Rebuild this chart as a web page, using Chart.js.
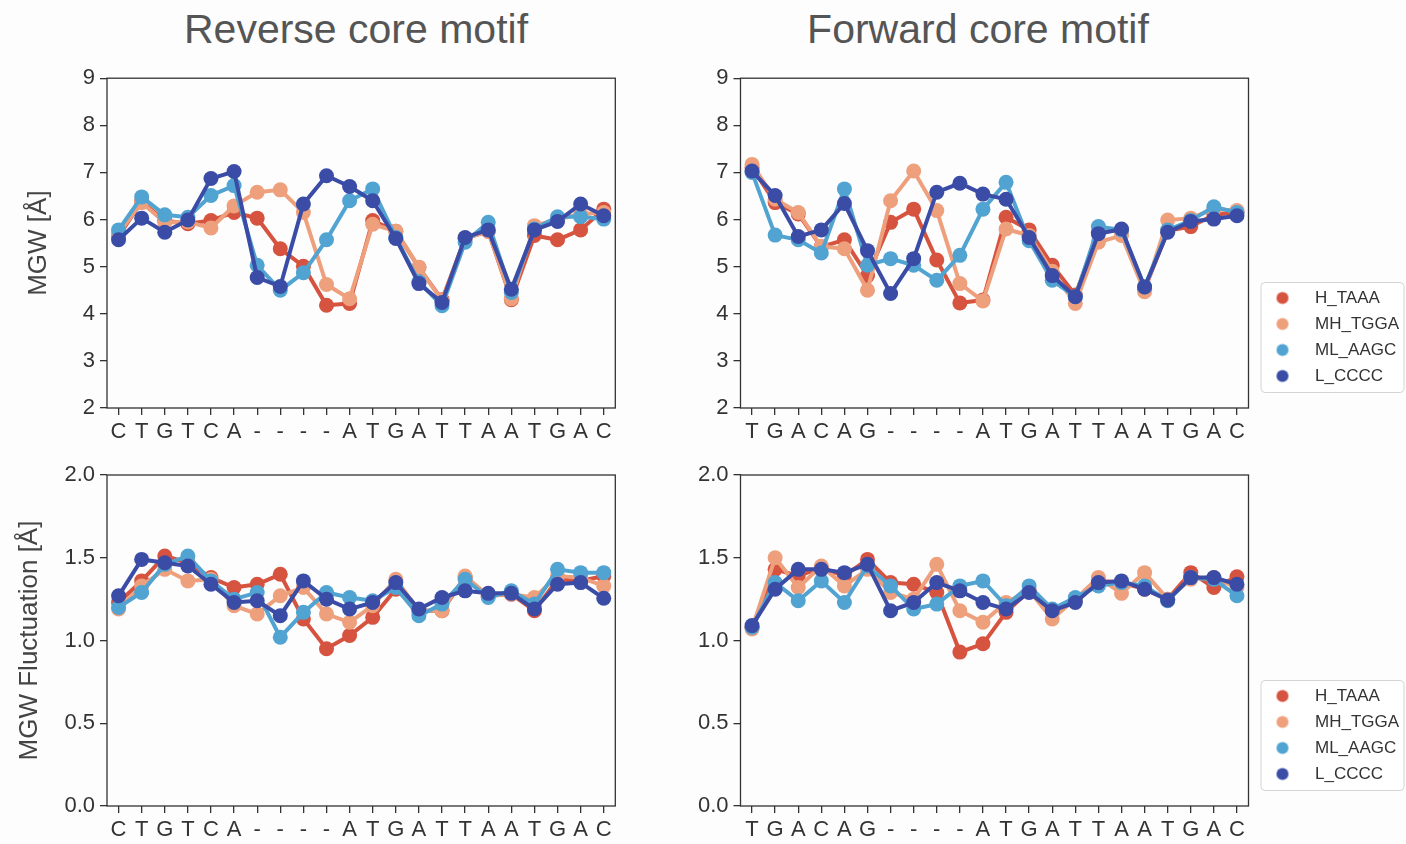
<!DOCTYPE html>
<html>
<head>
<meta charset="utf-8">
<script src="https://cdn.jsdelivr.net/npm/chart.js@4.4.1/dist/chart.umd.min.js"></script>
<style>
  html, body { margin: 0; padding: 0; background: #fdfdfd; }
  body { width: 1406px; height: 844px; position: relative; overflow: hidden;
         font-family: "Liberation Sans", Arial, sans-serif; }
  canvas.panel { position: absolute; }
  .head { position: absolute; top: 9px; font-size: 41px; line-height: 41px; color: #555;
          white-space: nowrap; transform: translateX(-50%); font-weight: normal; margin: 0; }
</style>
</head>
<body>
<h1 class="head" style="left:356px">Reverse core motif</h1>
<h1 class="head" style="left:978px">Forward core motif</h1>
<canvas id="mgwRev" class="panel" width="640" height="390" style="left:0;top:60px"></canvas>
<canvas id="mgwFwd" class="panel" width="766" height="390" style="left:640px;top:60px"></canvas>
<canvas id="flucRev" class="panel" width="640" height="394" style="left:0;top:450px"></canvas>
<canvas id="flucFwd" class="panel" width="766" height="394" style="left:640px;top:450px"></canvas>
<script>
// Sequence positions along each motif
const reverseSites = ['C','T','G','T','C','A','-','-','-','-','A','T','G','A','T','T','A','A','T','G','A','C'];
const forwardSites = ['T','G','A','C','A','G','-','-','-','-','A','T','G','A','T','T','A','A','T','G','A','C'];

const seriesNames  = ['H_TAAA', 'MH_TGGA', 'ML_AAGC', 'L_CCCC'];
const seriesColors = ['#d6533f', '#eea07d', '#51a3d1', '#3a4ca6'];

// Minor groove width (Å), reverse core motif
const mgwRevH  = [5.65, 6.38, 5.98, 5.91, 5.98, 6.15, 6.03, 5.38, 5.01, 4.18, 4.22, 5.98, 5.75, 4.98, 4.30, 5.60, 5.75, 4.30, 5.66, 5.57, 5.78, 6.22];
const mgwRevMH = [5.70, 6.36, 5.94, 5.95, 5.82, 6.29, 6.58, 6.63, 6.15, 4.62, 4.32, 5.90, 5.75, 4.99, 4.28, 5.60, 5.75, 4.32, 5.87, 6.00, 6.12, 6.15];
const mgwRevML = [5.78, 6.48, 6.10, 6.05, 6.51, 6.72, 5.03, 4.50, 4.87, 5.57, 6.40, 6.65, 5.62, 4.68, 4.17, 5.52, 5.94, 4.45, 5.80, 6.06, 6.06, 6.01];
const mgwRevL  = [5.57, 6.03, 5.73, 5.99, 6.87, 7.02, 4.77, 4.58, 6.33, 6.93, 6.70, 6.40, 5.60, 4.64, 4.24, 5.62, 5.78, 4.52, 5.78, 5.96, 6.33, 6.08];

// Minor groove width (Å), forward core motif
const mgwFwdH  = [7.10, 6.36, 6.12, 5.42, 5.57, 4.81, 5.94, 6.22, 5.14, 4.23, 4.29, 6.05, 5.78, 5.03, 4.40, 5.73, 5.78, 4.52, 5.76, 5.85, 6.10, 6.15];
const mgwFwdMH = [7.17, 6.43, 6.15, 5.43, 5.38, 4.50, 6.40, 7.03, 6.19, 4.64, 4.27, 5.80, 5.66, 4.90, 4.22, 5.52, 5.66, 4.47, 5.99, 6.03, 6.22, 6.19];
const mgwFwdML = [7.00, 5.67, 5.57, 5.29, 6.65, 5.03, 5.17, 5.03, 4.71, 5.24, 6.22, 6.79, 5.55, 4.71, 4.36, 5.85, 5.78, 4.57, 5.78, 5.98, 6.27, 6.15];
const mgwFwdL  = [7.03, 6.51, 5.64, 5.78, 6.34, 5.34, 4.43, 5.17, 6.58, 6.77, 6.54, 6.43, 5.62, 4.81, 4.36, 5.70, 5.80, 4.57, 5.73, 5.96, 6.01, 6.08];

// MGW fluctuation (Å), reverse core motif
const flucRevH  = [1.23, 1.36, 1.51, 1.47, 1.38, 1.32, 1.34, 1.40, 1.13, 0.95, 1.03, 1.14, 1.31, 1.18, 1.18, 1.38, 1.27, 1.28, 1.18, 1.37, 1.36, 1.39];
const flucRevMH = [1.19, 1.33, 1.43, 1.36, 1.37, 1.21, 1.16, 1.27, 1.32, 1.16, 1.11, 1.21, 1.37, 1.18, 1.18, 1.39, 1.27, 1.28, 1.26, 1.39, 1.38, 1.33];
const flucRevML = [1.20, 1.29, 1.46, 1.51, 1.36, 1.25, 1.29, 1.02, 1.17, 1.29, 1.26, 1.24, 1.32, 1.15, 1.22, 1.37, 1.26, 1.30, 1.22, 1.43, 1.41, 1.41];
const flucRevL  = [1.27, 1.49, 1.47, 1.45, 1.34, 1.23, 1.24, 1.15, 1.36, 1.25, 1.19, 1.23, 1.35, 1.19, 1.26, 1.30, 1.285, 1.285, 1.19, 1.34, 1.35, 1.255];

// MGW fluctuation (Å), forward core motif
const flucFwdH  = [1.08, 1.43, 1.39, 1.44, 1.39, 1.49, 1.35, 1.34, 1.29, 0.93, 0.98, 1.17, 1.30, 1.18, 1.25, 1.36, 1.35, 1.31, 1.25, 1.41, 1.32, 1.385];
const flucFwdMH = [1.07, 1.50, 1.32, 1.45, 1.33, 1.43, 1.29, 1.25, 1.46, 1.18, 1.11, 1.23, 1.30, 1.13, 1.25, 1.38, 1.285, 1.41, 1.25, 1.37, 1.38, 1.32];
const flucFwdML = [1.08, 1.35, 1.24, 1.36, 1.23, 1.45, 1.33, 1.19, 1.22, 1.33, 1.36, 1.21, 1.33, 1.19, 1.26, 1.33, 1.35, 1.33, 1.24, 1.38, 1.37, 1.27];
const flucFwdL  = [1.09, 1.31, 1.43, 1.43, 1.41, 1.46, 1.18, 1.23, 1.35, 1.30, 1.23, 1.19, 1.29, 1.18, 1.23, 1.35, 1.36, 1.31, 1.245, 1.38, 1.38, 1.34];

// Y tick labels
const mgwTicks  = [2, 3, 4, 5, 6, 7, 8, 9];
const flucTicks = [0.0, 0.5, 1.0, 1.5, 2.0];

const FONT = "'Liberation Sans', Arial, sans-serif";
Chart.defaults.font.family = FONT;
Chart.defaults.color = '#333';

// Box around the plotting area (all four spines)
const framePlugin = {
  id: 'frame',
  afterDatasetsDraw(chart) {
    const a = chart.chartArea, c = chart.ctx;
    c.save();
    c.strokeStyle = '#333';
    c.lineWidth = 1.3;
    c.strokeRect(a.left, a.top, a.right - a.left, a.bottom - a.top);
    c.restore();
  }
};

// Places the legend beside the plot and draws its rounded frame
const legendBoxPlugin = {
  id: 'legendBox',
  beforeDraw(chart) {
    const L = chart.legend;
    if (!L || !L.options.display) return;
    const a = chart.chartArea;
    const fl = a.right + 12, ft = a.bottom - 126, fw = 143, fh = 110;
    L.left = fl + 6; L.top = ft - 1.5;
    L.right = fl + fw; L.bottom = ft + fh + 40;
    L.width = L.right - L.left; L.height = L.bottom - L.top;
    const c = chart.ctx;
    c.save();
    c.beginPath();
    c.roundRect(fl + 0.5, ft + 0.5, fw, fh, 4);
    c.fillStyle = '#ffffff';
    c.fill();
    c.strokeStyle = '#d4d4d4';
    c.lineWidth = 1;
    c.stroke();
    c.restore();
  }
};

// Legend swatch: a round marker followed by a gap before the label
function swatch(color) {
  const cv = document.createElement('canvas');
  cv.width = 31; cv.height = 17;
  const g = cv.getContext('2d');
  g.fillStyle = color;
  g.beginPath();
  g.arc(7, 8.5, 6, 0, Math.PI * 2);
  g.fill();
  return cv;
}

function panel(id, sites, values, ticks, yTitle, geom, withLegend) {
  const step = ticks[1] - ticks[0];
  const decimals = Number.isInteger(step) ? 0 : 1;
  const axisGrid = { offset: false, drawOnChartArea: false, drawTicks: true, tickLength: 7, color: '#333', lineWidth: 1.3 };
  return new Chart(document.getElementById(id), {
    type: 'line',
    data: {
      labels: sites,
      datasets: values.map((v, i) => ({
        label: seriesNames[i],
        data: v,
        borderColor: seriesColors[i],
        backgroundColor: seriesColors[i],
        pointBackgroundColor: seriesColors[i],
        pointBorderWidth: 0,
        pointRadius: 7.5,
        pointHoverRadius: 7.5,
        borderWidth: 4,
        tension: 0,
        fill: false,
        order: values.length - 1 - i
      }))
    },
    options: {
      responsive: false,
      animation: false,
      devicePixelRatio: 1,
      events: [],
      layout: { padding: geom.pad },
      plugins: {
        tooltip: { enabled: false },
        legend: withLegend ? {
          display: true,
          position: 'chartArea',
          align: 'start',
          labels: {
            usePointStyle: true,
            pointStyleWidth: 31,
            padding: 9,
            color: '#333',
            font: { size: 17, family: FONT },
            sort: (a, b) => a.datasetIndex - b.datasetIndex,
            generateLabels(chart) {
              const items = Chart.defaults.plugins.legend.labels.generateLabels(chart);
              items.forEach(it => { it.pointStyle = swatch(seriesColors[it.datasetIndex]); });
              return items;
            }
          }
        } : { display: false }
      },
      scales: {
        x: {
          type: 'category',
          offset: true,
          grid: axisGrid,
          border: { display: false },
          ticks: { autoSkip: false, maxRotation: 0, minRotation: 0, padding: 4, color: '#333', font: { size: 22 } },
          afterFit(s) { s.height = geom.xH; }
        },
        y: {
          min: ticks[0],
          max: ticks[ticks.length - 1],
          grid: axisGrid,
          border: { display: false },
          ticks: { stepSize: step, padding: 5, color: '#333', font: { size: 22 },
                   callback: v => Number(v).toFixed(decimals) },
          title: yTitle ? { display: true, text: yTitle.text, color: '#444',
                            font: { size: 26, family: FONT }, padding: { top: yTitle.pad, bottom: 0 } }
                        : { display: false },
          afterFit(s) { s.width = geom.yW; }
        }
      }
    },
    plugins: withLegend ? [framePlugin, legendBoxPlugin] : [framePlugin]
  });
}

panel('mgwRev', reverseSites, [mgwRevH, mgwRevMH, mgwRevML, mgwRevL], mgwTicks,
      { text: 'MGW [Å]', pad: 23 },
      { pad: { left: 0, top: 17, right: 24.7, bottom: 2 }, yW: 107, xH: 40 }, false);
panel('mgwFwd', forwardSites, [mgwFwdH, mgwFwdMH, mgwFwdML, mgwFwdL], mgwTicks, null,
      { pad: { left: 0, top: 17, right: 157.5, bottom: 2 }, yW: 100.5, xH: 40 }, true);
panel('flucRev', reverseSites, [flucRevH, flucRevMH, flucRevML, flucRevL], flucTicks,
      { text: 'MGW Fluctuation [Å]', pad: 14 },
      { pad: { left: 0, top: 25, right: 24.7, bottom: 2 }, yW: 107, xH: 36 }, false);
panel('flucFwd', forwardSites, [flucFwdH, flucFwdMH, flucFwdML, flucFwdL], flucTicks, null,
      { pad: { left: 0, top: 25, right: 157.5, bottom: 2 }, yW: 100.5, xH: 36 }, true);
</script>
</body>
</html>
